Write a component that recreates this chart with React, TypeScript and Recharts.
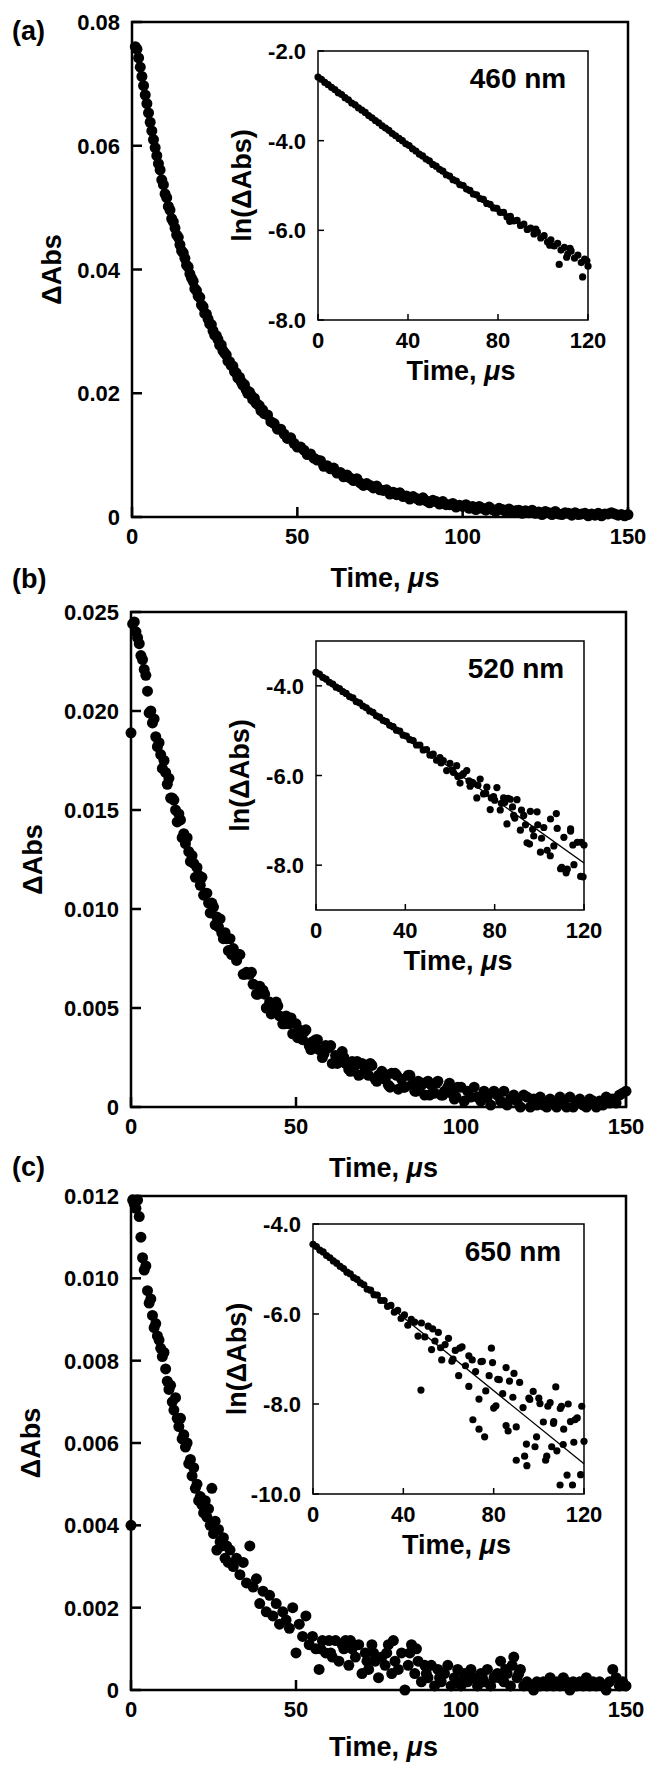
import React from "react";
import {
  ScatterChart,
  Scatter,
  XAxis,
  YAxis,
  ReferenceArea,
  ReferenceLine,
} from "recharts";

type Pt = [number, number];

const FONT = "'Liberation Sans', Arial, Helvetica, sans-serif";

// ---------- (a) 460 nm: ΔAbs vs time (µs)
const decay460: Pt[] = [
  [1, 0.076], [1.5, 0.0756], [2, 0.0742], [2.5, 0.0727], [3, 0.0712], [3.5, 0.0697], [4, 0.0682], [4.5, 0.0668],
  [5, 0.0653], [5.5, 0.0638], [6, 0.0624], [6.5, 0.061], [7, 0.0597], [7.5, 0.0584], [8, 0.0571], [8.5, 0.0561],
  [9, 0.0545], [9.5, 0.0537], [10, 0.0522], [10.5, 0.0516], [11, 0.0502], [11.5, 0.0496], [12, 0.0482], [12.5, 0.0477],
  [13, 0.0467], [13.5, 0.0456], [14, 0.0452], [14.5, 0.044], [15, 0.043], [15.5, 0.0427], [16, 0.0418], [16.5, 0.0407],
  [17, 0.0404], [17.5, 0.0393], [18, 0.0386], [18.5, 0.0381], [19, 0.0369], [19.5, 0.0366], [20, 0.0357], [20.5, 0.0355],
  [21, 0.0343], [21.5, 0.034], [22, 0.0329], [22.5, 0.0328], [23, 0.032], [23.5, 0.0312], [24, 0.0311], [24.5, 0.0301],
  [25, 0.0294], [25.5, 0.0293], [26, 0.0287], [26.5, 0.0278], [27, 0.0278], [27.5, 0.0269], [28, 0.0265], [28.5, 0.0262],
  [29, 0.0252], [29.5, 0.0251], [30, 0.0245], [30.5, 0.0244], [31, 0.0235], [31.5, 0.0233], [32, 0.0225], [32.5, 0.0226],
  [33, 0.0219], [33.5, 0.0213], [34, 0.0214], [34.5, 0.0206], [35, 0.02], [35.5, 0.0202], [36, 0.0197], [36.5, 0.019],
  [37, 0.0192], [37.5, 0.0184], [38, 0.0182], [38.5, 0.018], [39, 0.0172], [39.5, 0.0173], [40, 0.0167],
  [41, 0.0165], [42, 0.0154], [43, 0.0151], [44, 0.0142], [45, 0.0142], [46, 0.0134], [47, 0.0127], [48, 0.0128],
  [49, 0.0119], [50, 0.0113], [51, 0.0113], [52, 0.0108], [53, 0.0101], [54, 0.0102], [55, 0.0095], [56, 0.0092],
  [57, 0.0091], [58, 0.0082], [59, 0.0083], [60, 0.0078], [61, 0.0079], [62, 0.0071], [63, 0.0072], [64, 0.0065],
  [65, 0.0068], [66, 0.0063], [67, 0.0059], [68, 0.0062], [69, 0.0055], [70, 0.0051], [71, 0.0054], [72, 0.0051],
  [73, 0.0047], [74, 0.005], [75, 0.0044], [76, 0.0043], [77, 0.0044], [78, 0.0037], [79, 0.004], [80, 0.0036],
  [81, 0.0039], [82, 0.0033], [83, 0.0034], [84, 0.0029], [85, 0.0033], [86, 0.003], [87, 0.0027], [88, 0.0031],
  [89, 0.0026], [90, 0.0023], [91, 0.0027], [92, 0.0025], [93, 0.0021], [94, 0.0025], [95, 0.002], [96, 0.002],
  [97, 0.0022], [98, 0.0016], [99, 0.0019], [100, 0.0017], [101, 0.002], [102, 0.0014], [103, 0.0017], [104, 0.0012],
  [105, 0.0017], [106, 0.0014], [107, 0.0011], [108, 0.0016], [109, 0.0012], [110, 0.0009], [111, 0.0014], [112, 0.0012],
  [113, 0.0009], [114, 0.0013], [115, 0.0009], [116, 0.001], [117, 0.0011], [118, 0.0006], [119, 0.001], [120, 0.0007],
  [121, 0.0011], [122, 0.0006], [123, 0.0008], [124, 0.0004], [125, 0.0009], [126, 0.0007], [127, 0.0004], [128, 0.0009],
  [129, 0.0005], [130, 0.0004], [131, 0.0007], [132, 0.0006], [133, 0.0003], [134, 0.0007], [135, 0.0004], [136, 0.0005],
  [137, 0.0006], [138, 0.0002], [139, 0.0005], [140, 0.0003], [141, 0.0006], [142, 0.0002], [143, 0.0005], [144, 0.0005],
  [145, 0.0007], [146, 0.0005], [147, 0.0003], [148, 0.0004], [149, 0.0002], [150, 0.0004],
];

const ln460: Pt[] = [
  [0, -2.58], [1.5, -2.63], [3, -2.7], [4.5, -2.75], [6, -2.81], [7.5, -2.86], [9, -2.93], [10.5, -2.97],
  [12, -3.04], [13.5, -3.09], [15, -3.16], [16.5, -3.2], [18, -3.27], [19.5, -3.32], [21, -3.37], [22.5, -3.44],
  [24, -3.49], [25.5, -3.55], [27, -3.6], [28.5, -3.67], [30, -3.72], [31.5, -3.77], [33, -3.84], [34.5, -3.89],
  [36, -3.95], [37.5, -4.0], [39, -4.07], [40.5, -4.11], [42, -4.18], [43.5, -4.23], [45, -4.3], [46.5, -4.34],
  [48, -4.41], [49.5, -4.45], [51, -4.53], [52.5, -4.57], [54, -4.64], [55.5, -4.68], [57, -4.76], [58.5, -4.79],
  [60, -4.87], [61.5, -4.9], [63, -4.98], [64.5, -5.0], [66, -5.08], [67.5, -5.11], [69, -5.19], [70.5, -5.21],
  [72, -5.29], [73.5, -5.31], [75, -5.4], [76.5, -5.42], [78, -5.5], [79.5, -5.51], [81, -5.6], [82.5, -5.6],
  [84, -5.7], [85.5, -5.69], [87, -5.79], [88.5, -5.78], [90, -5.89], [91.5, -5.86], [93, -5.98], [94.5, -5.95],
  [96, -6.08], [97.5, -6.04], [99, -6.17], [100.5, -6.12], [102, -6.26], [103.5, -6.21], [105, -6.35], [106.5, -6.29],
  [108, -6.44], [109.5, -6.38], [111, -6.53], [112.5, -6.46], [114, -6.62], [115.5, -6.55], [117, -6.72], [118.5, -6.64],
  [120, -6.8], [85.2, -5.8], [107.2, -6.76], [117.6, -7.04], [112, -6.4], [119.5, -6.68], [96.8, -5.97], [103, -6.33],
  [110.5, -6.6],
];

// ---------- (b) 520 nm
const decay520: Pt[] = [
  [0, 0.0189], [0.5, 0.0244], [1, 0.0245], [1.5, 0.024], [2, 0.0237], [2.5, 0.0234], [3, 0.0228], [3.5, 0.0226],
  [4, 0.0221], [4.5, 0.0218], [5, 0.021], [5.5, 0.0199], [6, 0.02], [6.5, 0.0194], [7, 0.0196], [7.5, 0.0187],
  [8, 0.0182], [8.5, 0.0184], [9, 0.0178], [9.5, 0.0171], [10, 0.0175], [10.5, 0.0169], [11, 0.0163], [11.5, 0.0166],
  [12, 0.0156], [12.5, 0.0156], [13, 0.0155], [13.5, 0.015], [14, 0.0144], [14.5, 0.0148], [15, 0.0145], [15.5, 0.0136],
  [16, 0.0138], [16.5, 0.0133], [17, 0.0136], [17.5, 0.0129], [18, 0.0124], [18.5, 0.0127], [19, 0.0123], [19.5, 0.0116],
  [20, 0.0121], [20.5, 0.0117], [21, 0.0112], [21.5, 0.0116], [22, 0.0107], [22.5, 0.0108], [23, 0.0108], [23.5, 0.0103],
  [24, 0.0098], [24.5, 0.0103], [25, 0.0101], [25.5, 0.0092], [26, 0.0096], [26.5, 0.0091], [27, 0.0095], [27.5, 0.0088],
  [28, 0.0085], [28.5, 0.0088], [29, 0.0085], [29.5, 0.0079], [30, 0.0085], [31, 0.008], [32, 0.0074], [33, 0.0077],
  [34, 0.0067], [35, 0.0068], [36, 0.0067], [37, 0.0062], [38, 0.0057], [39, 0.0061], [40, 0.0059], [41, 0.005],
  [42, 0.0053], [43, 0.0049], [44, 0.0053], [45, 0.0046], [46, 0.0042], [47, 0.0046], [48, 0.0042], [49, 0.0037],
  [50, 0.0042], [51, 0.0039], [52, 0.0034], [53, 0.0039], [54, 0.0031], [55, 0.0033], [56, 0.0034], [57, 0.0029],
  [58, 0.0025], [59, 0.0031], [60, 0.003], [61, 0.0022], [62, 0.0026], [63, 0.0023], [64, 0.0028], [65, 0.0022],
  [66, 0.0019], [67, 0.0023], [68, 0.0021], [69, 0.0016], [70, 0.0022], [71, 0.002], [72, 0.0016], [73, 0.0021],
  [74, 0.0014], [75, 0.0016], [76, 0.0018], [77, 0.0014], [78, 0.0011], [79, 0.0017], [80, 0.0017], [81, 0.0009],
  [82, 0.0014], [83, 0.001], [84, 0.0016], [85, 0.0011], [86, 0.0008], [87, 0.0013], [88, 0.0011], [89, 0.0006],
  [90, 0.0013], [91, 0.0011], [92, 0.0007], [93, 0.0013], [94, 0.0006], [95, 0.0008], [96, 0.001], [97, 0.0007],
  [98, 0.0004], [99, 0.001], [100, 0.001], [101, 0.0003], [102, 0.0008], [103, 0.0005], [104, 0.001], [105, 0.0005],
  [106, 0.0003], [107, 0.0008], [108, 0.0005], [109, 0.0001], [110, 0.0008], [111, 0.0006], [112, 0.0003], [113, 0.0008],
  [114, 0.0001], [115, 0.0004], [116, 0.0006], [117, 0.0003], [118, 0.0], [119, 0.0006], [120, 0.0005], [121, 0.0],
  [122, 0.0004], [123, 0.0001], [124, 0.0005], [125, 0.0001], [126, 0.0], [127, 0.0004], [128, 0.0002], [129, 0.0],
  [130, 0.0005], [131, 0.0003], [132, 0.0], [133, 0.0005], [134, 0.0], [135, 0.0002], [136, 0.0004], [137, 0.0001],
  [138, 0.0], [139, 0.0004], [140, 0.0003], [141, 0.0], [142, 0.0003], [143, 0.0001], [144, 0.0005], [145, 0.0002],
  [146, 0.0004], [147, 0.0002], [148, 0.0006], [149, 0.0007], [150, 0.0008],
  [30.5, 0.0077], [32.5, 0.0077], [34.5, 0.0067], [36.5, 0.0068], [38.5, 0.0057], [40.5, 0.0057], [42.5, 0.0047],
  [44.5, 0.0051], [46.5, 0.0042], [48.5, 0.0045], [50.5, 0.0035], [52.5, 0.0038], [54.5, 0.0029], [56.5, 0.0034],
  [58.5, 0.0027], [60.5, 0.0031], [62.5, 0.0022], [64.5, 0.0025], [66.5, 0.0018], [68.5, 0.0023], [70.5, 0.0017],
  [72.5, 0.0022], [74.5, 0.0013], [76.5, 0.0017], [78.5, 0.001], [80.5, 0.0016], [82.5, 0.001], [84.5, 0.0016],
  [86.5, 0.0008], [88.5, 0.0012], [90.5, 0.0006], [92.5, 0.0012], [94.5, 0.0006], [96.5, 0.0012], [98.5, 0.0005],
];

const ln520: Pt[] = [
  [0, -3.7], [1.5, -3.74], [3, -3.81], [4.5, -3.85], [6, -3.92], [7.5, -3.96], [9, -4.03], [10.5, -4.06],
  [12, -4.13], [13.5, -4.17], [15, -4.24], [16.5, -4.27], [18, -4.35], [19.5, -4.38], [21, -4.45], [22.5, -4.49],
  [24, -4.56], [25.5, -4.59], [27, -4.67], [28.5, -4.7], [30, -4.77], [31.5, -4.8], [33, -4.88], [34.5, -4.91],
  [36, -4.99], [37.5, -5.01], [39, -5.1], [40.5, -5.12], [42, -5.2], [43.5, -5.22], [45, -5.32], [46.5, -5.32],
  [48, -5.43], [49.5, -5.42], [51, -5.54], [52.5, -5.52], [54, -5.66], [55.5, -5.6], [57, -5.67], [58.5, -5.89],
  [60, -5.73], [61.5, -5.93], [63, -5.78], [64.5, -6.17], [66, -5.96], [67.5, -5.89], [69, -6.24], [70.5, -6.18],
  [72, -6.5], [73.5, -6.08], [75, -6.41], [76.5, -6.26], [78, -6.76], [79.5, -6.47], [81, -6.27], [82.5, -6.77],
  [84, -6.5], [85.5, -7.08], [87, -6.53], [88.5, -6.89], [90, -6.54], [91.5, -7.22], [93, -6.89], [94.5, -7.5],
  [96, -6.8], [97.5, -7.35], [99, -6.81], [100.5, -7.71], [102, -7.16], [103.5, -7.67], [105, -6.97], [106.5, -7.57],
  [108, -7.18], [109.5, -8.08], [111, -7.38], [112.5, -8.09], [114, -7.24], [115.5, -7.99], [117, -7.49], [118.5, -8.25],
  [120, -7.55], [61, -5.88], [65, -6.0], [68.5, -6.12], [72.5, -6.22], [76, -6.4], [80, -6.55], [83, -6.62],
  [86, -6.51], [89, -6.95], [92, -6.77], [95.6, -7.53], [99.3, -7.1], [104.9, -7.79], [107.6, -6.85], [110, -8.05],
  [114, -7.19], [118.7, -7.49], [119.6, -8.26], [112, -8.17], [115, -7.55], [101, -7.4], [97, -7.2], [93.8, -7.1],
  [88, -6.7], [84.5, -6.6], [78.5, -6.5], [70, -6.15], [63.5, -6.02], [56, -5.72], [52, -5.55],
];
const fit520: Pt[] = [[0, -3.7], [120, -7.95]];

// ---------- (c) 650 nm
const decay650: Pt[] = [
  [0, 0.004], [0.5, 0.0119], [1, 0.0118], [1.5, 0.0117], [2, 0.0119], [2.5, 0.0115], [3, 0.011], [3.5, 0.0105],
  [4, 0.0102], [4.5, 0.0103], [5, 0.0097], [5.5, 0.0094], [6, 0.0095], [6.5, 0.0091], [7, 0.0088], [7.5, 0.0089],
  [8, 0.0086], [8.5, 0.0085], [9, 0.0083], [9.5, 0.0081], [10, 0.0082], [10.5, 0.0078], [11, 0.0075], [11.5, 0.0073],
  [12, 0.0074], [12.5, 0.007], [13, 0.0068], [13.5, 0.0071], [14, 0.0066], [14.5, 0.0064], [15, 0.0066], [15.5, 0.0061],
  [16, 0.0062], [16.5, 0.0059], [17, 0.006], [17.5, 0.0055], [18, 0.0056], [18.5, 0.0052], [19, 0.0054], [19.5, 0.0049],
  [20, 0.005], [20.5, 0.0046], [21, 0.0047], [21.5, 0.0045], [22, 0.0043], [22.5, 0.0046], [23, 0.0042], [23.5, 0.0044],
  [24, 0.004], [24.5, 0.0049], [25, 0.0038], [25.5, 0.0041], [26, 0.0034], [26.5, 0.0039], [27, 0.0036], [27.5, 0.0035],
  [28, 0.0037], [28.5, 0.0032], [29, 0.0035], [29.5, 0.0031], [30, 0.0034], [31, 0.003], [32, 0.0032], [33, 0.0028],
  [34, 0.0031], [35, 0.0026], [36, 0.0035], [37, 0.0025], [38, 0.0027], [39, 0.0021], [40, 0.0024], [41, 0.0019],
  [42, 0.0023], [43, 0.0018], [44, 0.0021], [45, 0.0016], [46, 0.0019], [47, 0.0017], [48, 0.0015], [49, 0.002],
  [50, 0.0009], [51, 0.0016], [52, 0.0013], [53, 0.0018], [54, 0.0011], [55, 0.0013], [56, 0.001], [57, 0.0005],
  [58, 0.0012], [59, 0.0009], [60, 0.0012], [61, 0.0008], [62, 0.0012], [63, 0.0007], [64, 0.0011], [65, 0.0012],
  [66, 0.0006], [67, 0.001], [68, 0.0008], [69, 0.0011], [70, 0.0004], [71, 0.0009], [72, 0.0005], [73, 0.0011],
  [74, 0.0007], [75, 0.0003], [76, 0.0008], [77, 0.0006], [78, 0.0011], [79, 0.0004], [80, 0.0007], [81, 0.0005],
  [82, 0.0009], [83, 0.0], [84, 0.0006], [85, 0.0011], [86, 0.0004], [87, 0.0007], [88, 0.0002], [89, 0.0006],
  [90, 0.0003], [91, 0.0006], [92, 0.0001], [93, 0.0005], [94, 0.0002], [95, 0.0004], [96, 0.0006], [97, 0.0001],
  [98, 0.0003], [99, 0.0005], [100, 0.0001], [101, 0.0004], [102, 0.0002], [103, 0.0005], [104, 0.0003], [105, 0.0001],
  [106, 0.0004], [107, 0.0002], [108, 0.0005], [109, 0.0001], [110, 0.0003], [111, 0.0004], [112, 0.0007], [113, 0.0002],
  [114, 0.0004], [115, 0.0001], [116, 0.0008], [117, 0.0003], [118, 0.0005], [119, 0.0001], [120, 0.0002], [121, 0.0001],
  [122, 0.0], [123, 0.0002], [124, 0.0001], [125, 0.0002], [126, 0.0001], [127, 0.0003], [128, 0.0001], [129, 0.0002],
  [130, 0.0001], [131, 0.0003], [132, 0.0002], [133, 0.0], [134, 0.0002], [135, 0.0001], [136, 0.0002], [137, 0.0001],
  [138, 0.0003], [139, 0.0001], [140, 0.0002], [141, 0.0001], [142, 0.0002], [143, 0.0001], [144, 0.0], [145, 0.0002],
  [146, 0.0005], [147, 0.0003], [148, 0.0001], [149, 0.0002], [150, 0.0001],
  [57.5, 0.001], [60.5, 0.0009], [64.5, 0.001], [66.5, 0.0012], [71.5, 0.0007], [73.5, 0.0009], [77.5, 0.0009],
  [79.5, 0.0012], [84.5, 0.0009], [86.5, 0.001], [89.5, 0.0004], [93.5, 0.0003], [99.5, 0.0002], [102.5, 0.0004],
  [106.5, 0.0003], [111.5, 0.0003], [113.5, 0.0005], [115.5, 0.0006], [117.5, 0.0004],
];

const ln650: Pt[] = [
  [0, -4.45], [1.5, -4.5], [3, -4.58], [4.5, -4.62], [6, -4.7], [7.5, -4.75], [9, -4.82], [10.5, -4.87],
  [12, -4.94], [13.5, -4.99], [15, -5.07], [16.5, -5.11], [18, -5.19], [19.5, -5.23], [21, -5.31], [22.5, -5.35],
  [24, -5.45], [25.5, -5.47], [27, -5.57], [28.5, -5.58], [30, -5.7], [31.5, -5.7], [33, -5.83], [34.5, -5.81],
  [36, -5.96], [37.5, -5.92], [39, -6.1], [40.5, -6.02], [42, -6.25], [43.5, -6.12], [45, -6.18], [46.5, -6.49],
  [48, -6.2], [49.5, -6.51], [51, -6.27], [52.5, -6.79], [54, -6.6], [55.5, -6.41], [57, -7.02], [58.5, -6.68],
  [60, -6.54], [61.5, -7.05], [63, -6.81], [64.5, -7.37], [66, -6.73], [67.5, -7.15], [69, -7.61], [70.5, -7.02],
  [72, -7.28], [73.5, -7.89], [75, -7.05], [76.5, -7.71], [78, -7.37], [79.5, -7.08], [81, -8.04], [82.5, -7.46],
  [84, -7.77], [85.5, -8.48], [87, -7.49], [88.5, -7.85], [90, -8.51], [91.5, -7.52], [93, -8.08], [94.5, -8.89],
  [96, -7.9], [97.5, -7.72], [99, -8.73], [100.5, -7.99], [102, -8.4], [103.5, -9.16], [105, -7.97], [106.5, -8.43],
  [108, -9.04], [109.5, -8.1], [111, -8.56], [112.5, -9.58], [114, -8.39], [115.5, -8.85], [117, -8.31], [118.5, -9.57],
  [120, -8.83], [47.8, -7.69], [53, -6.33], [56.5, -6.75], [62, -7.0], [65, -6.76], [69, -6.93], [70.8, -8.35],
  [73.5, -8.56], [74.4, -7.06], [76, -8.73], [79, -6.76], [80, -8.09], [81.8, -7.45], [85.5, -7.19], [86.4, -8.6],
  [89, -7.32], [90, -9.25], [93.7, -9.16], [94.7, -9.37], [95.6, -7.87], [98.3, -8.95], [100, -7.87], [103, -9.25],
  [104, -8.05], [105.7, -8.95], [106.6, -8.39], [107.5, -7.62], [109.4, -9.8], [110, -8.05], [110.8, -8.9], [113, -8.0],
  [114.9, -9.8], [116, -8.35], [119, -8.05],
];
const fit650: Pt[] = [[0, -4.45], [120, -9.33]];

// ---------- axes
const mainTimeTicks = [0, 50, 100, 150];
const insetTimeTicks = [0, 40, 80, 120];
const ticks460 = [0, 0.02, 0.04, 0.06, 0.08];
const labels460 = ["0", "0.02", "0.04", "0.06", "0.08"];
const ticks520 = [0, 0.005, 0.01, 0.015, 0.02, 0.025];
const labels520 = ["0", "0.005", "0.010", "0.015", "0.020", "0.025"];
const ticks650 = [0, 0.002, 0.004, 0.006, 0.008, 0.01, 0.012];
const labels650 = ["0", "0.002", "0.004", "0.006", "0.008", "0.010", "0.012"];
const lnTicks460 = [-8, -6, -4, -2];
const lnTicks520 = [-8, -6, -4];
const lnTicks650 = [-10, -8, -6, -4];

interface Box { l: number; t: number; r: number; b: number }

const lookup = (ticks: number[], labels?: string[]) => (v: number) =>
  labels ? labels[ticks.indexOf(v)] : v.toFixed(1);

function BottomTick(props: any) {
  const { x, y, payload, len, sw, fmt, off } = props;
  return (
    <g>
      <line x1={x} y1={y} x2={x} y2={y - len} stroke="#000" strokeWidth={sw} />
      <text x={x} y={y + off} textAnchor="middle" fontFamily={FONT} fontWeight="bold" fontSize={22} fill="#000">
        {fmt(payload.value)}
      </text>
    </g>
  );
}

function LeftTick(props: any) {
  const { x, y, payload, len, sw, fmt, gap } = props;
  return (
    <g>
      <line x1={x} y1={y} x2={x + len} y2={y} stroke="#000" strokeWidth={sw} />
      <text x={x - gap} y={y + 8} textAnchor="end" fontFamily={FONT} fontWeight="bold" fontSize={22} fill="#000">
        {fmt(payload.value)}
      </text>
    </g>
  );
}

interface PlotProps {
  box: Box;
  data: Pt[];
  xMax: number;
  xTicks: number[];
  yDomain: [number, number];
  yTicks: number[];
  yLabels?: string[];
  r: number;
  frame: number;
  tickLen: number;
  fit?: Pt[];
}

function Plot({ box, data, xMax, xTicks, yDomain, yTicks, yLabels, r, frame, tickLen, fit }: PlotProps) {
  const padL = 120, padR = 40, padT = 12, padB = 80;
  const w = box.r - box.l + padL + padR;
  const h = box.b - box.t + padT + padB;
  const rows = data.map(([t, v]) => ({ t, v }));
  const yFmt = lookup(yTicks, yLabels);
  const xFmt = (v: number) => String(v);
  return (
    <div style={{ position: "absolute", left: box.l - padL, top: box.t - padT }}>
      <ScatterChart
        width={w}
        height={h}
        margin={{ top: padT, right: padR, bottom: padB - 30, left: padL - 60 }}
      >
        <XAxis
          type="number"
          dataKey="t"
          domain={[0, xMax]}
          ticks={xTicks}
          interval={0}
          height={30}
          axisLine={false}
          tickLine={false}
          tickSize={0}
          tickMargin={0}
          tick={(p: any) => (
            <BottomTick {...p} len={tickLen} sw={frame} fmt={xFmt} off={frame > 2 ? 27 : 28} />
          )}
        />
        <YAxis
          type="number"
          dataKey="v"
          domain={yDomain}
          ticks={yTicks}
          interval={0}
          width={60}
          axisLine={false}
          tickLine={false}
          tickSize={0}
          tickMargin={0}
          tick={(p: any) => <LeftTick {...p} len={tickLen} sw={frame} fmt={yFmt} gap={12} />}
        />
        <ReferenceArea
          x1={0}
          x2={xMax}
          y1={yDomain[0]}
          y2={yDomain[1]}
          fill="none"
          stroke="#000"
          strokeWidth={frame}
          ifOverflow="visible"
        />
        {fit && (
          <ReferenceLine
            segment={fit.map(([x, y]) => ({ x, y }))}
            stroke="#000"
            strokeWidth={1.3}
            ifOverflow="visible"
          />
        )}
        <Scatter
          data={rows}
          isAnimationActive={false}
          shape={(p: any) => <circle cx={p.cx} cy={p.cy} r={r} fill="#000" />}
        />
      </ScatterChart>
    </div>
  );
}

interface PanelDef {
  letter: string;
  letterY: number;
  main: Box;
  data: Pt[];
  yMax: number;
  yTicks: number[];
  yLabels: string[];
  yTitleX: number;
  xTitleDy: number;
  inset: Box;
  ln: Pt[];
  lnDomain: [number, number];
  lnTicks: number[];
  fit?: Pt[];
  nm: string;
}

const panels: PanelDef[] = [
  {
    letter: "(a)", letterY: 40,
    main: { l: 132, t: 22, r: 628, b: 517 },
    data: decay460, yMax: 0.08, yTicks: ticks460, yLabels: labels460, yTitleX: 51, xTitleDy: 70,
    inset: { l: 318, t: 51, r: 588, b: 320 },
    ln: ln460, lnDomain: [-8, -2], lnTicks: lnTicks460, nm: "460 nm",
  },
  {
    letter: "(b)", letterY: 588,
    main: { l: 131, t: 612, r: 626, b: 1107 },
    data: decay520, yMax: 0.025, yTicks: ticks520, yLabels: labels520, yTitleX: 32, xTitleDy: 70,
    inset: { l: 316, t: 641, r: 584, b: 910 },
    ln: ln520, lnDomain: [-9, -3], lnTicks: lnTicks520, fit: fit520, nm: "520 nm",
  },
  {
    letter: "(c)", letterY: 1176,
    main: { l: 131, t: 1196, r: 626, b: 1690 },
    data: decay650, yMax: 0.012, yTicks: ticks650, yLabels: labels650, yTitleX: 30, xTitleDy: 66,
    inset: { l: 313, t: 1224, r: 584, b: 1494 },
    ln: ln650, lnDomain: [-10, -4], lnTicks: lnTicks650, fit: fit650, nm: "650 nm",
  },
];

const TITLE = 27;
const txt = { fontFamily: FONT, fontWeight: "bold" as const, fill: "#000" };

function TimeTitle({ x, y }: { x: number; y: number }) {
  return (
    <text x={x} y={y} textAnchor="middle" fontSize={TITLE} {...txt}>
      Time, <tspan fontStyle="italic">μ</tspan>s
    </text>
  );
}

function VTitle({ cx, cy, children }: { cx: number; cy: number; children: React.ReactNode }) {
  return (
    <text
      x={cx}
      y={cy + 9.7}
      transform={`rotate(-90 ${cx} ${cy})`}
      textAnchor="middle"
      fontSize={TITLE}
      {...txt}
    >
      {children}
    </text>
  );
}

export default function App() {
  return (
    <div
      style={{
        position: "absolute",
        left: 0,
        top: 0,
        width: 650,
        height: 1765,
        background: "#fff",
        overflow: "hidden",
      }}
    >
      {panels.map((p) => (
        <React.Fragment key={p.letter}>
          <Plot
            box={p.main}
            data={p.data}
            xMax={150}
            xTicks={mainTimeTicks}
            yDomain={[0, p.yMax]}
            yTicks={p.yTicks}
            yLabels={p.yLabels}
            r={5.5}
            frame={2.5}
            tickLen={10}
          />
          <Plot
            box={p.inset}
            data={p.ln}
            xMax={120}
            xTicks={insetTimeTicks}
            yDomain={p.lnDomain}
            yTicks={p.lnTicks}
            r={3.6}
            frame={1.5}
            tickLen={6}
            fit={p.fit}
          />
        </React.Fragment>
      ))}
      <svg
        width={650}
        height={1765}
        style={{ position: "absolute", left: 0, top: 0, pointerEvents: "none" }}
      >
        {panels.map((p) => {
          const m = p.main;
          const s = p.inset;
          return (
            <g key={p.letter}>
              <text x={12} y={p.letterY} fontSize={27} {...txt}>
                {p.letter}
              </text>
              <TimeTitle x={(m.l + m.r) / 2 + 5} y={m.b + p.xTitleDy} />
              <VTitle cx={p.yTitleX} cy={(m.t + m.b) / 2}>ΔAbs</VTitle>
              <TimeTitle x={(s.l + s.r) / 2 + 8} y={s.b + 60} />
              <VTitle cx={s.l - 77} cy={(s.t + s.b) / 2}>ln(ΔAbs)</VTitle>
              <text x={s.l + 200} y={s.t + 37} textAnchor="middle" fontSize={28} {...txt}>
                {p.nm}
              </text>
            </g>
          );
        })}
      </svg>
    </div>
  );
}
